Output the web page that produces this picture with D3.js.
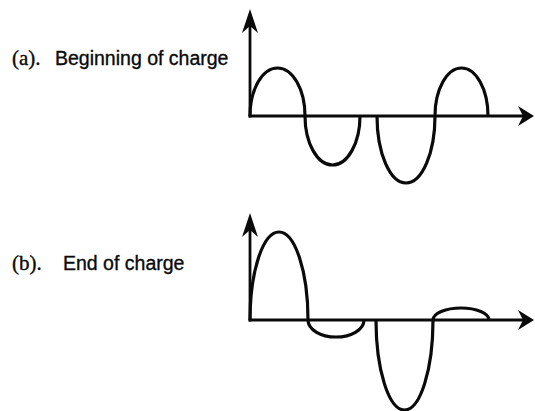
<!DOCTYPE html>
<html>
<head>
<meta charset="utf-8">
<script src="https://cdn.jsdelivr.net/npm/d3@7"></script>
<style>
  body { margin: 0; background: #fff; }
  svg { display: block; }
</style>
</head>
<body>
<svg id="chart" width="535" height="411"></svg>
<script>
// panel labels
const tagLabels = ["(a).", "(b)."];
const panelLabels = ["Beginning of charge", "End of charge"];

// half-wave humps of panel (a): start, end, amplitude (up is positive)
const humpStartA = [0, 55, 127, 185];
const humpEndA = [55, 110, 185, 238];
const humpAmpA = [48, -49, -67, 48];

// half-wave humps of panel (b)
const humpStartB = [0, 58, 126, 183];
const humpEndB = [58, 114, 183, 239];
const humpAmpB = [88, -17, -90, 12];

const svg = d3.select("#chart");
const ink = "#0a0a0a";

const panels = [
    { baseline: 116, labelY: 65, textX: 55, starts: humpStartA, ends: humpEndA, amps: humpAmpA },
    { baseline: 320, labelY: 270, textX: 63, starts: humpStartB, ends: humpEndB, amps: humpAmpB }
];

// x scale shared by both panels
const x = d3.scaleLinear().domain([0, 284]).range([250, 534]);

panels.forEach((p, i) => {
    const y = d3.scaleLinear()
        .domain([-110, 110])
        .range([p.baseline + 110, p.baseline - 110]);

    const g = svg.append("g");

    // label: serif tag + sans text
    const label = g.append("text")
        .attr("y", p.labelY)
        .attr("fill", ink)
        .attr("stroke", ink)
        .attr("stroke-width", 0.35);
    label.append("tspan")
        .attr("x", 12)
        .style("font-family", "'Liberation Serif', 'Times New Roman', serif")
        .style("font-size", "21px")
        .text(tagLabels[i]);
    label.append("tspan")
        .attr("x", p.textX)
        .style("font-family", "'Liberation Sans', Arial, Helvetica, sans-serif")
        .style("font-size", "19.5px")
        .text(panelLabels[i]);

    // axes
    const x0 = x(0), yTop = y(107), xEnd = x.range()[1];
    g.append("line")
        .attr("x1", x0).attr("x2", x0)
        .attr("y1", y(0) + 1.5).attr("y2", yTop + 12)
        .attr("stroke", ink).attr("stroke-width", 2.8);
    g.append("line")
        .attr("x1", x0 - 1.4).attr("x2", xEnd - 10)
        .attr("y1", y(0)).attr("y2", y(0))
        .attr("stroke", ink).attr("stroke-width", 2.8);

    // arrowheads
    g.append("path")
        .attr("d", `M${x0},${yTop} L${x0 + 8},${yTop + 24} L${x0},${yTop + 17} L${x0 - 8},${yTop + 24} Z`)
        .attr("fill", ink);
    g.append("path")
        .attr("d", `M${xEnd},${y(0)} L${xEnd - 16},${y(0) - 10} L${xEnd - 11},${y(0)} L${xEnd - 16},${y(0) + 10} Z`)
        .attr("fill", ink);

    // humps, each a half ellipse through bezier quarters
    const k = 0.5523;
    p.starts.forEach((s, j) => {
        const xa = x(s), xb = x(p.ends[j]), xm = (xa + xb) / 2;
        const b = y(0), pk = y(p.amps[j]);
        const hw = (xb - xa) / 2;
        const path = d3.path();
        path.moveTo(xa, b);
        path.bezierCurveTo(xa, b + k * (pk - b), xm - k * hw, pk, xm, pk);
        path.bezierCurveTo(xm + k * hw, pk, xb, b + k * (pk - b), xb, b);
        g.append("path")
            .attr("d", path.toString())
            .attr("fill", "none")
            .attr("stroke", ink)
            .attr("stroke-width", 3.2);
    });
});
</script>
</body>
</html>
